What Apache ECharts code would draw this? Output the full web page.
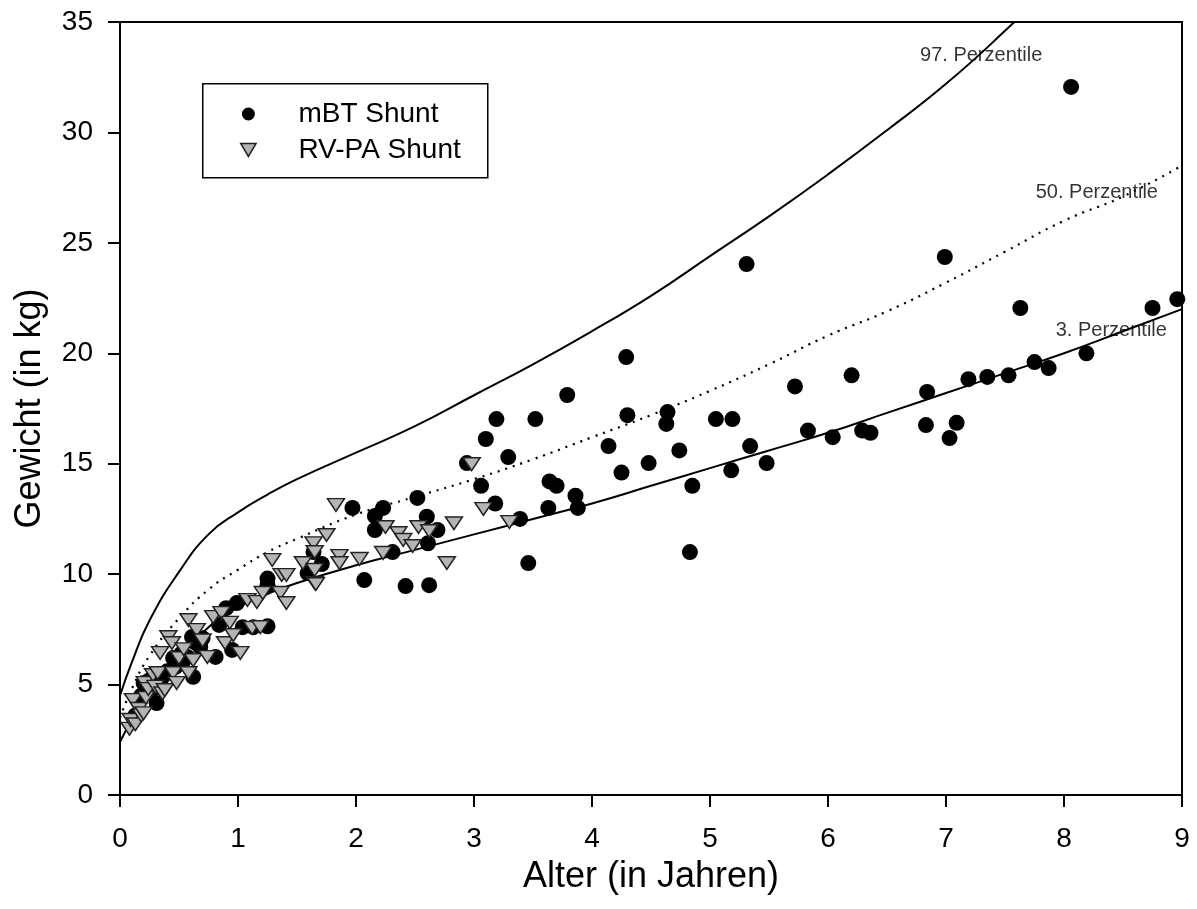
<!DOCTYPE html>
<html>
<head>
<meta charset="utf-8">
<script src="https://cdn.jsdelivr.net/npm/echarts@6/dist/echarts.min.js"></script>
<style>
  html, body { margin: 0; padding: 0; background: #fff; }
  #chart { width: 1197px; height: 909px; }
</style>
</head>
<body>
<div id="chart"></div>
<script>
// Perzentilkurven (Alter in Jahren, Gewicht in kg)
const p97Age = [0, 0.1, 0.25, 0.5, 0.75, 1, 1.25, 1.5, 2, 2.5, 3, 3.5, 4, 4.5, 5, 5.5, 6, 6.5, 7, 7.5, 8]
const p97Weight = [4.5, 6.0, 7.9, 10.1, 11.8, 12.8, 13.6, 14.3, 15.5, 16.7, 18.1, 19.5, 21.0, 22.6, 24.4, 26.2, 28.1, 30.1, 32.2, 34.6, 37.2]

const pAge = [0, 0.1, 0.25, 0.5, 0.75, 1, 1.25, 1.5, 2, 2.5, 3, 3.5, 4, 4.5, 5, 5.5, 6, 6.5, 7, 7.5, 8, 8.5, 9]
const p50Weight = [3.5, 4.8, 6.3, 8.0, 9.3, 10.2, 11.0, 11.6, 12.7, 13.5, 14.3, 15.2, 16.2, 17.2, 18.3, 19.5, 20.8, 21.9, 23.2, 24.6, 26.0, 27.1, 28.5]
const p3Weight = [2.4, 3.4, 4.6, 6.2, 7.6, 8.5, 9.1, 9.6, 10.4, 11.1, 11.8, 12.5, 13.2, 14.0, 14.8, 15.6, 16.4, 17.3, 18.2, 19.1, 20.0, 21.0, 22.0]

// Patienten: [Alter, Gewicht]
const mbtShunt = [
  [0.13, 3.6], [0.18, 4.5], [0.20, 5.07], [0.25, 5.2], [0.28, 4.8], [0.31, 4.16], [0.36, 5.35], [0.40, 5.6],
  [0.45, 6.2], [0.47, 5.8], [0.52, 6.4], [0.54, 6.1], [0.57, 6.25], [0.61, 7.15], [0.62, 5.35], [0.64, 6.9],
  [0.68, 6.7], [0.70, 7.1], [0.81, 6.25], [0.84, 7.7], [0.90, 8.46], [0.95, 6.57], [0.99, 8.69], [1.04, 7.6],
  [1.13, 7.6], [1.25, 7.64], [1.25, 9.5], [1.25, 9.8], [1.59, 10.05], [1.64, 11.0], [1.71, 10.46], [1.97, 13.0],
  [2.07, 9.73], [2.16, 12.0], [2.16, 12.63], [2.23, 13.0], [2.31, 11.0], [2.42, 9.46], [2.52, 13.45], [2.60, 12.6],
  [2.61, 11.4], [2.62, 9.5], [2.69, 12.0], [2.94, 15.03], [3.06, 14.0], [3.10, 16.12], [3.18, 13.2], [3.19, 17.02],
  [3.29, 15.3], [3.39, 12.5], [3.46, 10.5], [3.52, 17.02], [3.63, 13.0], [3.64, 14.2], [3.70, 14.0], [3.79, 18.11],
  [3.86, 13.55], [3.88, 13.0], [4.14, 15.8], [4.25, 14.6], [4.29, 19.83], [4.30, 17.2], [4.48, 15.03], [4.63, 16.8],
  [4.64, 17.34], [4.74, 15.6], [4.83, 11.0], [4.85, 14.0], [5.05, 17.02], [5.18, 14.7], [5.19, 17.02], [5.31, 24.04],
  [5.34, 15.8], [5.48, 15.03], [5.72, 18.5], [5.83, 16.5], [6.04, 16.2], [6.20, 19.0], [6.29, 16.5], [6.36, 16.4],
  [6.83, 16.75], [6.84, 18.25], [6.99, 24.36], [7.03, 16.16], [7.09, 16.85], [7.19, 18.83], [7.35, 18.93], [7.53, 19.0],
  [7.63, 22.05], [7.75, 19.6], [7.87, 19.33], [8.06, 32.06], [8.19, 20.0], [8.75, 22.05], [8.96, 22.45]
]
const rvpaShunt = [
  [0.08, 3.0], [0.09, 3.4], [0.11, 4.3], [0.13, 3.2], [0.16, 3.9], [0.18, 3.6], [0.20, 3.7], [0.21, 5.07],
  [0.22, 4.4], [0.24, 4.8], [0.28, 5.43], [0.30, 4.9], [0.32, 5.52], [0.34, 6.43], [0.36, 4.6], [0.38, 4.75],
  [0.41, 7.15], [0.44, 6.88], [0.45, 5.52], [0.48, 5.07], [0.50, 6.2], [0.54, 6.6], [0.58, 7.92], [0.58, 5.52],
  [0.62, 6.1], [0.65, 7.47], [0.70, 7.0], [0.74, 6.25], [0.79, 8.06], [0.86, 8.24], [0.89, 6.88], [0.93, 7.8],
  [0.96, 7.24], [1.02, 6.43], [1.08, 8.83], [1.12, 7.56], [1.16, 8.74], [1.19, 7.6], [1.21, 9.15], [1.29, 10.64],
  [1.36, 9.15], [1.37, 9.96], [1.41, 9.96], [1.41, 8.69], [1.55, 10.5], [1.64, 11.4], [1.65, 9.6], [1.65, 11.0],
  [1.66, 9.55], [1.65, 10.19], [1.75, 11.77], [1.83, 13.13], [1.86, 10.82], [1.86, 10.5], [2.03, 10.69], [2.23, 10.96],
  [2.25, 12.13], [2.36, 11.86], [2.40, 11.55], [2.48, 11.27], [2.53, 12.13], [2.62, 11.95], [2.77, 10.5], [2.83, 12.3],
  [2.98, 14.98], [3.08, 12.95], [3.30, 12.36]
]

// Beschriftung der Kurven: [Text, Alter, Gewicht]
const percentileLabels = [
  ['97. Perzentile', 6.78, 33.5],
  ['50. Perzentile', 7.76, 27.3],
  ['3. Perzentile', 7.93, 21.05]
]

const xTicks = [0, 1, 2, 3, 4, 5, 6, 7, 8, 9]
const yTicks = [0, 5, 10, 15, 20, 25, 30, 35]

const FONT = 'Liberation Sans, Arial, sans-serif'
const triangleDown = 'path://M0,0L20,0L10,17Z'

const zip = (xs, ys) => xs.map((x, i) => [x, ys[i]])

const chart = echarts.init(document.getElementById('chart'))

const option = {
  animation: false,
  backgroundColor: '#fff',
  textStyle: { fontFamily: FONT },
  grid: {
    left: 120, right: 15, top: 22, bottom: 114,
    show: true, borderColor: '#000', borderWidth: 2, backgroundColor: 'transparent'
  },
  xAxis: {
    type: 'value', min: 0, max: 9, interval: 1,
    name: 'Alter (in Jahren)', nameLocation: 'middle', nameGap: 64,
    nameTextStyle: { fontSize: 36, color: '#000', fontFamily: FONT },
    axisLine: { onZero: false, lineStyle: { color: '#000', width: 2 } },
    axisTick: { show: true, length: 12, inside: false, lineStyle: { color: '#000', width: 2 } },
    axisLabel: { fontSize: 28, color: '#000', margin: 30, formatter: v => xTicks.includes(v) ? String(v) : '' },
    splitLine: { show: false }
  },
  yAxis: {
    type: 'value', min: 0, max: 35, interval: 5,
    name: 'Gewicht (in kg)', nameLocation: 'middle', nameGap: 72,
    nameTextStyle: { fontSize: 36, color: '#000', fontFamily: FONT },
    axisLine: { onZero: false, lineStyle: { color: '#000', width: 2 } },
    axisTick: { show: true, length: 12, inside: false, lineStyle: { color: '#000', width: 2 } },
    axisLabel: { fontSize: 28, color: '#000', margin: 27, formatter: v => yTicks.includes(v) ? String(v) : '' },
    splitLine: { show: false }
  },
  legend: {
    orient: 'vertical', left: 235, top: 95,
    itemWidth: 90, itemHeight: 13, itemGap: 8,
    textStyle: { fontSize: 28, color: '#000', fontFamily: FONT },
    data: [
      { name: 'mBT Shunt', icon: 'circle', itemStyle: { color: '#000', borderWidth: 0 } },
      { name: 'RV-PA Shunt', icon: triangleDown, itemStyle: { color: '#b4b4b4', borderColor: '#222', borderWidth: 1.5 } }
    ],
    selectedMode: false
  },
  graphic: [{
    type: 'rect', left: 202, top: 83, z: 10,
    shape: { width: 285, height: 94 },
    style: { fill: 'transparent', stroke: '#000', lineWidth: 1.5 }
  }],
  series: [
    {
      name: '97. Perzentile', type: 'line', data: zip(p97Age, p97Weight),
      showSymbol: false, smooth: true, clip: true, silent: true, z: 1,
      lineStyle: { color: '#000', width: 2 }
    },
    {
      name: '50. Perzentile', type: 'line', data: zip(pAge, p50Weight),
      showSymbol: false, smooth: true, silent: true, z: 1,
      lineStyle: { color: '#000', width: 2.2, type: [2, 6] }
    },
    {
      name: '3. Perzentile', type: 'line', data: zip(pAge, p3Weight),
      showSymbol: false, smooth: true, silent: true, z: 1,
      lineStyle: { color: '#000', width: 2 }
    },
    {
      name: 'mBT Shunt', type: 'scatter', data: mbtShunt, z: 3,
      symbol: 'circle', symbolSize: 16,
      itemStyle: { color: '#000', opacity: 1 }
    },
    {
      name: 'RV-PA Shunt', type: 'scatter', data: rvpaShunt, z: 4,
      symbol: triangleDown, symbolSize: [17, 15], symbolKeepAspect: true,
      itemStyle: { color: '#b4b4b4', borderColor: '#222', borderWidth: 1.5, opacity: 1 }
    },
    {
      name: 'labels', type: 'scatter', silent: true, z: 5,
      symbolSize: 0,
      data: percentileLabels.map(d => ({ name: d[0], value: [d[1], d[2]] })),
      label: {
        show: true, position: 'right', distance: 0, formatter: p => p.name,
        fontSize: 20, color: '#000', fontFamily: FONT
      }
    }
  ]
}

chart.setOption(option)
</script>
</body>
</html>
